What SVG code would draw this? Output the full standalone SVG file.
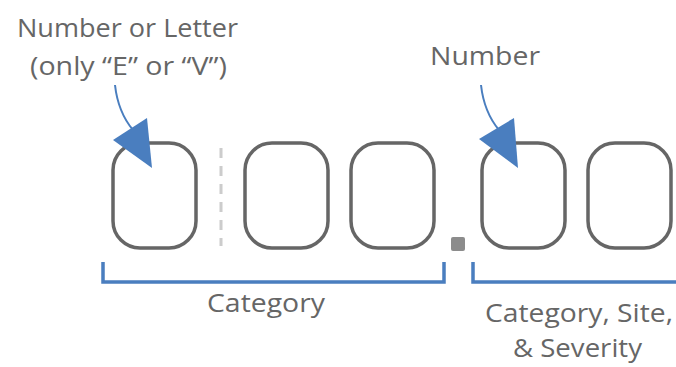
<svg xmlns="http://www.w3.org/2000/svg" width="676" height="367" viewBox="0 0 676 367">
<style>
.lbl{font-family:"Open Sans","Noto Sans",sans-serif;font-size:25px;fill:#666;}
.box{fill:#fff;stroke:#666;stroke-width:3.5;}
.br{fill:none;stroke:#4a7ebf;stroke-width:3.5;}
.al{fill:none;stroke:#4a7ebf;stroke-width:2;}
.ah{fill:#4a7ebf;}
</style>
<rect width="676" height="367" fill="#fff"/>
<g id="boxes">
<g id="box1"><rect class="box" x="113" y="143" width="83" height="105" rx="27"/></g>
<g id="sep"><line x1="221" y1="148" x2="221" y2="246" stroke="#ccc" stroke-width="3" stroke-dasharray="10 8"/></g>
<g id="box2"><rect class="box" x="245" y="143" width="83" height="105" rx="27"/></g>
<g id="box3"><rect class="box" x="351" y="143" width="83" height="105" rx="27"/></g>
<g id="dot"><rect x="451" y="237" width="14" height="14" rx="2" fill="#8c8c8c"/></g>
<g id="box4"><rect class="box" x="482" y="143" width="83" height="105" rx="27"/></g>
<g id="box5"><rect class="box" x="588" y="143" width="83" height="105" rx="27"/></g>
</g>
<g id="brackets">
<path class="br" d="M103 262 V282 H444 V262"/>
<path class="br" d="M473 262 V282 H680"/>
</g>
<g id="connectors">
<path class="al" d="M115 85 Q118 112 133 130"/>
<polygon class="ah" points="147,118 113,140 152,168"/>
<path class="al" d="M481 85 Q484 112 499 130"/>
<polygon class="ah" points="514,118 479,139 518,168"/>
</g>
<g id="labels">
<text class="lbl" x="17" y="37" textLength="221" lengthAdjust="spacingAndGlyphs">Number or Letter</text>
<text class="lbl" x="30" y="75" textLength="197" lengthAdjust="spacingAndGlyphs">(only “E” or “V”)</text>
<text class="lbl" x="430" y="65" textLength="110" lengthAdjust="spacingAndGlyphs">Number</text>
<text class="lbl" x="207" y="312" textLength="118" lengthAdjust="spacingAndGlyphs">Category</text>
<text class="lbl" x="485" y="322" textLength="188" lengthAdjust="spacingAndGlyphs">Category, Site,</text>
<text class="lbl" x="513" y="357" textLength="129" lengthAdjust="spacingAndGlyphs">&amp; Severity</text>
</g>
</svg>
